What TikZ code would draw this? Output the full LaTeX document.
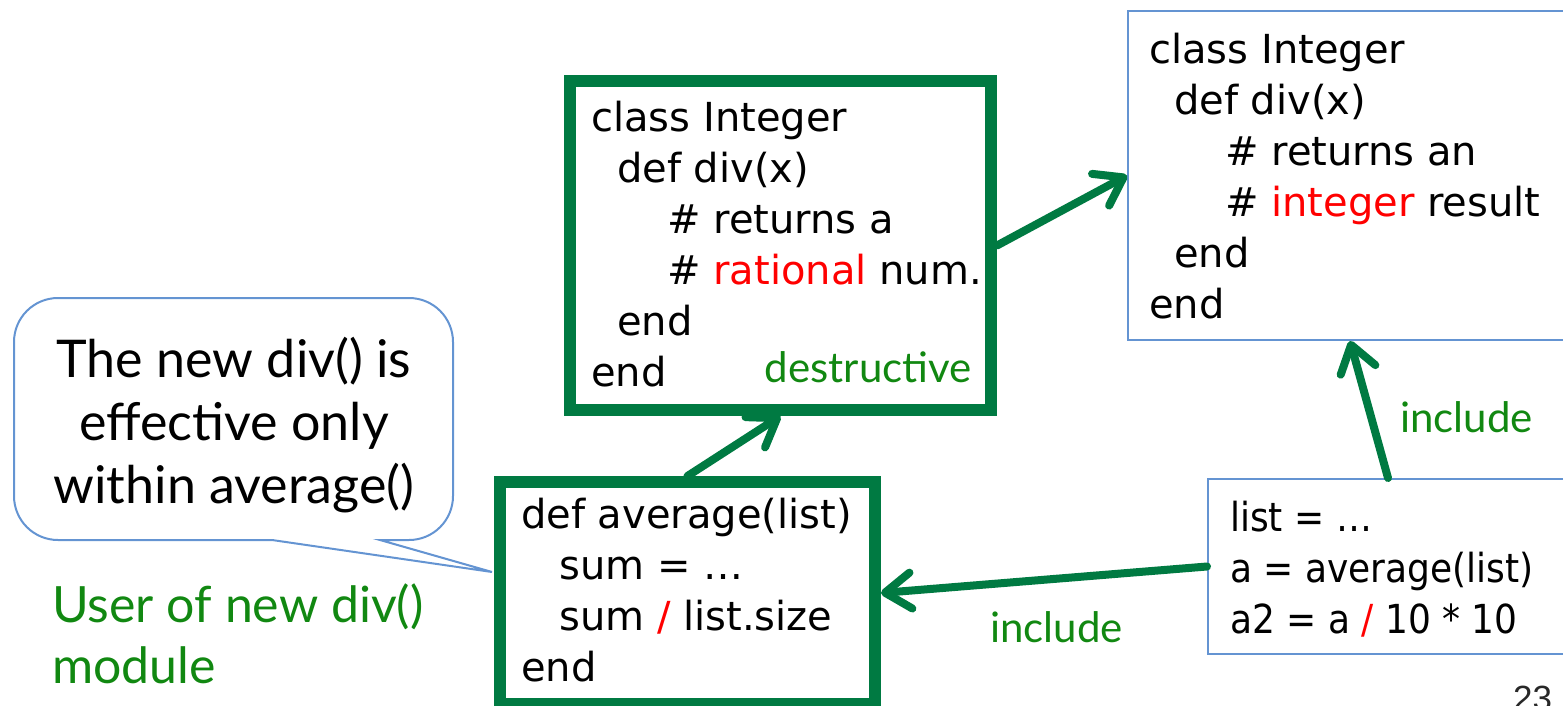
\documentclass[tikz,border=0pt]{standalone}
\usepackage{fontspec}
\setmainfont{Lato}
\newfontfamily\codefont{DejaVu Sans}
\newfontfamily\codenarrow[FakeStretch=0.9]{DejaVu Sans}
\newfontfamily\pagefont{Liberation Sans}
\usetikzlibrary{arrows.meta}

\definecolor{boxgreen}{RGB}{0,122,66}
\definecolor{labelgreen}{RGB}{17,136,17}
\definecolor{thinblue}{RGB}{100,148,210}
\definecolor{hot}{RGB}{255,0,0}

% multi-line nodes are placed by the baseline of their last line
\tikzset{
  heavybox/.style={draw=boxgreen, line width=12pt, inner sep=0pt, fill=white},
  lightbox/.style={draw=thinblue, line width=2pt, inner sep=0pt, fill=white},
  code/.style={anchor=base west, inner sep=0pt, align=left,
    font=\codefont\fontsize{40}{51}\selectfont},
  greenlabel/.style={inner sep=0pt, text=labelgreen,
    font=\fontsize{42}{50}\selectfont},
  link/.style={draw=boxgreen, line width=8pt, line cap=round, line join=round,
    -{Straight Barb[length=26pt, width=36pt, line cap=round, line join=round]}},
  callout/.style={draw=thinblue, line width=2pt},
}

\begin{document}
\begin{tikzpicture}[x=1pt, y=-1pt]
\useasboundingbox (0,0) rectangle (1563,706);

% module boxes
\node[heavybox, minimum width=421pt, minimum height=329pt] (refine) at (780.5,245.5) {};
\node[heavybox, minimum width=375pt, minimum height=222pt] (avg) at (687.5,593) {};
\node[lightbox, minimum width=462pt, minimum height=329pt] (orig) at (1359,175.5) {};
\node[lightbox, minimum width=382pt, minimum height=175pt] (client) at (1399,566.5) {};

% code inside the boxes
\node[code] (refinecode) at (591,386) {class Integer\\
\hspace*{26pt}def div(x)\\
\hspace*{76pt}\# returns a\\
\hspace*{76pt}\# \textcolor{hot}{rational} num.\\
\hspace*{26pt}end\\
end};
\node[code] (avgcode) at (521,681) {def average(list)\\
\hspace*{38pt}sum = …\\
\hspace*{38pt}sum \textcolor{hot}{/} list.size\\
end};
\node[code] (origcode) at (1149,318) {class Integer\\
\hspace*{25pt}def div(x)\\
\hspace*{76pt}\# returns an\\
\hspace*{76pt}\# \textcolor{hot}{integer} result\\
\hspace*{25pt}end\\
end};
\node[code, font=\codenarrow\fontsize{40}{51}\selectfont] (clientcode) at (1230,633)
  {list = …\\
a = average(list)\\
a2 = a \textcolor{hot}{/} 10 * 10};

% labels
\node[greenlabel, anchor=base east] (destr) at (972,382) {destructive};
\node[greenlabel, anchor=base west] (incup) at (1400,432) {include};
\node[greenlabel, anchor=base west] (inclow) at (990,642) {include};

% dependencies
\draw[link] (avg.north) -- (refine.south);
\draw[link] (refine.east) -- (orig.west);
\draw[link] ([xshift=-11pt]client.north) -- ([xshift=-9pt]orig.south);
\draw[link] (client.west) -- (avg.east);

% speech bubble
\draw[callout] (272,540) [sharp corners] -- (492,572) -- (380,540)
  [rounded corners=44pt] -- (453,540) -- (453,298) -- (14,298) -- (14,540) -- (272,540);
\node[anchor=base, inner sep=0pt, align=center,
  font=\fontsize{52}{63}\selectfont] (note) at (234,503)
  {The new div() is\\effective only\\within average()};

\node[anchor=base west, inner sep=0pt, align=left, text=labelgreen,
  font=\fontsize{50}{61}\selectfont] (user) at (52,683)
  {User of new div()\\module};

% slide number
\node[anchor=base west, inner sep=0pt, text={rgb,255:red,40;green,40;blue,40},
  font=\pagefont\fontsize{35}{40}\selectfont] (pageno) at (1513,710) {23};
\end{tikzpicture}
\end{document}
